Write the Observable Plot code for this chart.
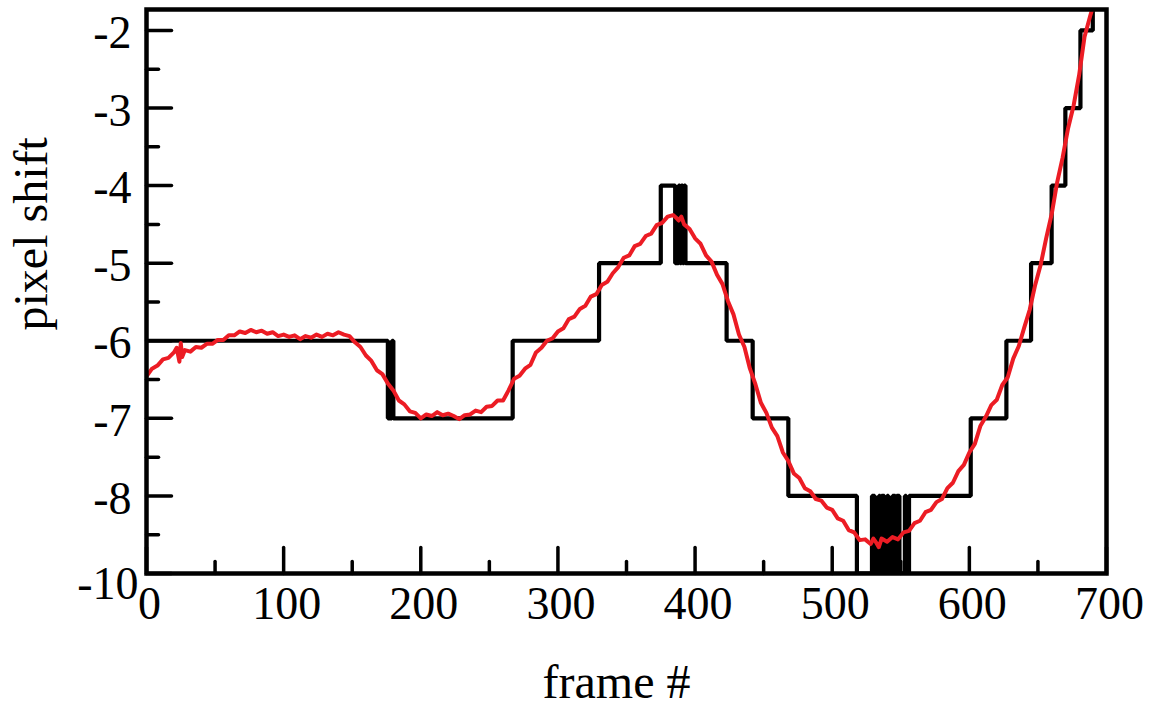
<!DOCTYPE html>
<html>
<head>
<meta charset="utf-8">
<script src="https://cdn.jsdelivr.net/npm/d3@7"></script>
<script src="https://cdn.jsdelivr.net/npm/@observablehq/plot@0.6"></script>
<style>
  body { margin: 0; background: #fff; }
  svg { display: block; }
</style>
</head>
<body>
<div id="chart"></div>
<script>
// Red (sub-pixel) shift series
const redFrames = [0,4,8,12,16,20,22,24,25,26,28,32,36,40,44,48,52,56,60,64,68,72,76,80,84,88,92,96,100,104,108,112,116,120,124,128,132,136,140,144,148,152,156,160,164,168,172,176,180,184,188,192,196,200,204,208,212,216,220,224,228,232,236,240,244,248,252,256,260,264,268,272,276,280,284,288,292,296,300,304,308,312,316,320,324,328,332,336,340,344,348,352,356,360,364,368,372,376,380,384,386,388,390,392,396,400,404,408,412,416,420,424,428,432,436,440,444,448,452,456,460,464,468,472,476,480,484,488,492,496,500,504,508,512,516,520,524,528,530,532,534,536,540,544,548,552,556,560,564,568,572,576,580,584,588,592,596,600,604,608,612,616,620,624,628,632,636,640,644,648,652,656,660,664,668,672,676,680,684,688,690];
const redValues = [-6.46,-6.36,-6.32,-6.24,-6.22,-6.15,-6.09,-6.27,-6.03,-6.21,-6.12,-6.14,-6.08,-6.09,-6.04,-6.04,-5.99,-5.99,-5.93,-5.93,-5.88,-5.90,-5.86,-5.89,-5.87,-5.91,-5.89,-5.94,-5.92,-5.95,-5.93,-5.98,-5.94,-5.96,-5.92,-5.95,-5.91,-5.93,-5.89,-5.92,-5.94,-6.02,-6.08,-6.19,-6.26,-6.38,-6.43,-6.55,-6.64,-6.77,-6.82,-6.91,-6.93,-7.00,-6.95,-6.97,-6.92,-6.96,-6.94,-6.97,-7.01,-6.96,-6.95,-6.90,-6.92,-6.85,-6.84,-6.77,-6.77,-6.64,-6.49,-6.45,-6.36,-6.31,-6.15,-6.09,-6.00,-5.97,-5.88,-5.84,-5.72,-5.69,-5.59,-5.55,-5.43,-5.40,-5.28,-5.24,-5.13,-5.05,-4.93,-4.90,-4.78,-4.75,-4.65,-4.62,-4.51,-4.48,-4.40,-4.38,-4.41,-4.45,-4.40,-4.50,-4.56,-4.68,-4.75,-4.90,-4.98,-5.15,-5.27,-5.49,-5.66,-5.92,-6.08,-6.36,-6.56,-6.80,-6.93,-7.12,-7.23,-7.44,-7.55,-7.71,-7.77,-7.90,-7.94,-8.04,-8.06,-8.15,-8.18,-8.29,-8.32,-8.44,-8.47,-8.57,-8.56,-8.62,-8.55,-8.60,-8.66,-8.55,-8.59,-8.53,-8.56,-8.47,-8.45,-8.35,-8.32,-8.21,-8.18,-8.08,-8.04,-7.90,-7.83,-7.68,-7.60,-7.44,-7.33,-7.10,-6.98,-6.83,-6.76,-6.57,-6.47,-6.23,-6.07,-5.83,-5.60,-5.28,-5.02,-4.68,-4.37,-3.96,-3.64,-3.26,-2.97,-2.58,-2.08,-1.82,-1.70];

// Black (integer pixel) shift series: change points of a step function
const stepFrames = [0,176,179,180,267,330,375,385.5,388,389,390,391,392,393,423,442,468,518,529,531,534,535,536,538,540,541,544,546,547,549,553,554,556,601,627,645,660,670,681,690,700];
const stepValues = [-6,-7,-6,-7,-6,-5,-4,-5,-4,-5,-4,-5,-4,-5,-6,-7,-8,-9,-8,-9,-8,-9,-8,-9,-8,-9,-8,-9,-8,-9,-8,-9,-8,-7,-6,-5,-4,-3,-2,-1,-1];

// Axes
const xMajorTicks = [0,100,200,300,400,500,600,700];
const xMinorTicks = [50,150,250,350,450,550,650];
const xTickLabels = ["0","100","200","300","400","500","600","700"];
const yMajorTicks = [-9,-8,-7,-6,-5,-4,-3,-2];
const yMinorTicks = [-8.5,-7.5,-6.5,-5.5,-4.5,-3.5,-2.5];
const yLabelValues = [-8,-7,-6,-5,-4,-3,-2];
const yLabelTexts = ["-8","-7","-6","-5","-4","-3","-2"];
const yBottomValue = [-9];
const yBottomText = ["-10"];
const xTitle = "frame #";
const yTitle = "pixel shift";

const red = redFrames.map((f, i) => ({f, v: redValues[i]}));
const steps = stepFrames.map((f, i) => ({f, v: stepValues[i]}));
const xLabels = xMajorTicks.map((v, i) => ({v, t: xTickLabels[i]}));
const yLabels = yLabelValues.map((v, i) => ({v, t: yLabelTexts[i]}));
const yBottom = yBottomValue.map((v, i) => ({v, t: yBottomText[i]}));

const tickRight = {draw(ctx, l) { ctx.moveTo(0, 0); ctx.lineTo(l, 0); }};
const tickUp = {draw(ctx, l) { ctx.moveTo(0, 0); ctx.lineTo(0, -l); }};

const chart = Plot.plot({
  width: 1161,
  height: 706,
  marginLeft: 146,
  marginRight: 55,
  marginTop: 9,
  marginBottom: 133,
  style: {fontFamily: "'Liberation Serif', 'Times New Roman', serif", background: "#fff", color: "#000"},
  x: {domain: [0, 700], axis: null},
  y: {domain: [-9, -1.73], axis: null},
  marks: [
    Plot.line(steps, {x: "f", y: "v", curve: "step-after", stroke: "#000", strokeWidth: 4.2, strokeLinejoin: "miter", clip: true}),
    Plot.line(red, {x: "f", y: "v", stroke: "#ec1c24", strokeWidth: 4, clip: true}),
    // ticks
    Plot.vector(yMajorTicks, {y: d => d, frameAnchor: "left", length: 25, anchor: "start", shape: tickRight, stroke: "#000", strokeWidth: 3.5}),
    Plot.vector(yMinorTicks, {y: d => d, frameAnchor: "left", length: 12, anchor: "start", shape: tickRight, stroke: "#000", strokeWidth: 3.5}),
    Plot.vector(xMajorTicks, {x: d => d, frameAnchor: "bottom", length: 26, anchor: "start", shape: tickUp, stroke: "#000", strokeWidth: 3.5}),
    Plot.vector(xMinorTicks, {x: d => d, frameAnchor: "bottom", length: 12, anchor: "start", shape: tickUp, stroke: "#000", strokeWidth: 3.5}),
    Plot.frame({stroke: "#000", strokeWidth: 4.5}),
    // tick labels
    Plot.text(xLabels, {x: "v", text: "t", frameAnchor: "bottom", lineAnchor: "bottom", dy: 45, dx: 3, fontSize: 46, fill: "#000"}),
    Plot.text(yLabels, {y: "v", text: "t", frameAnchor: "left", textAnchor: "end", lineAnchor: "middle", dx: -15, dy: 3, fontSize: 46, fill: "#000"}),
    Plot.text(yBottom, {y: "v", text: "t", frameAnchor: "left", textAnchor: "end", lineAnchor: "middle", dx: -8, dy: 11, fontSize: 46, fill: "#000"}),
    // axis titles
    Plot.text([xTitle], {text: d => d, frameAnchor: "bottom", lineAnchor: "bottom", dy: 124, dx: -10, fontSize: 48, fill: "#000"}),
    Plot.text([yTitle], {text: d => d, frameAnchor: "left", lineAnchor: "bottom", rotate: -90, dx: -100, dy: 39, fontSize: 48, fill: "#000"})
  ]
});
document.getElementById("chart").appendChild(chart);
</script>
</body>
</html>
